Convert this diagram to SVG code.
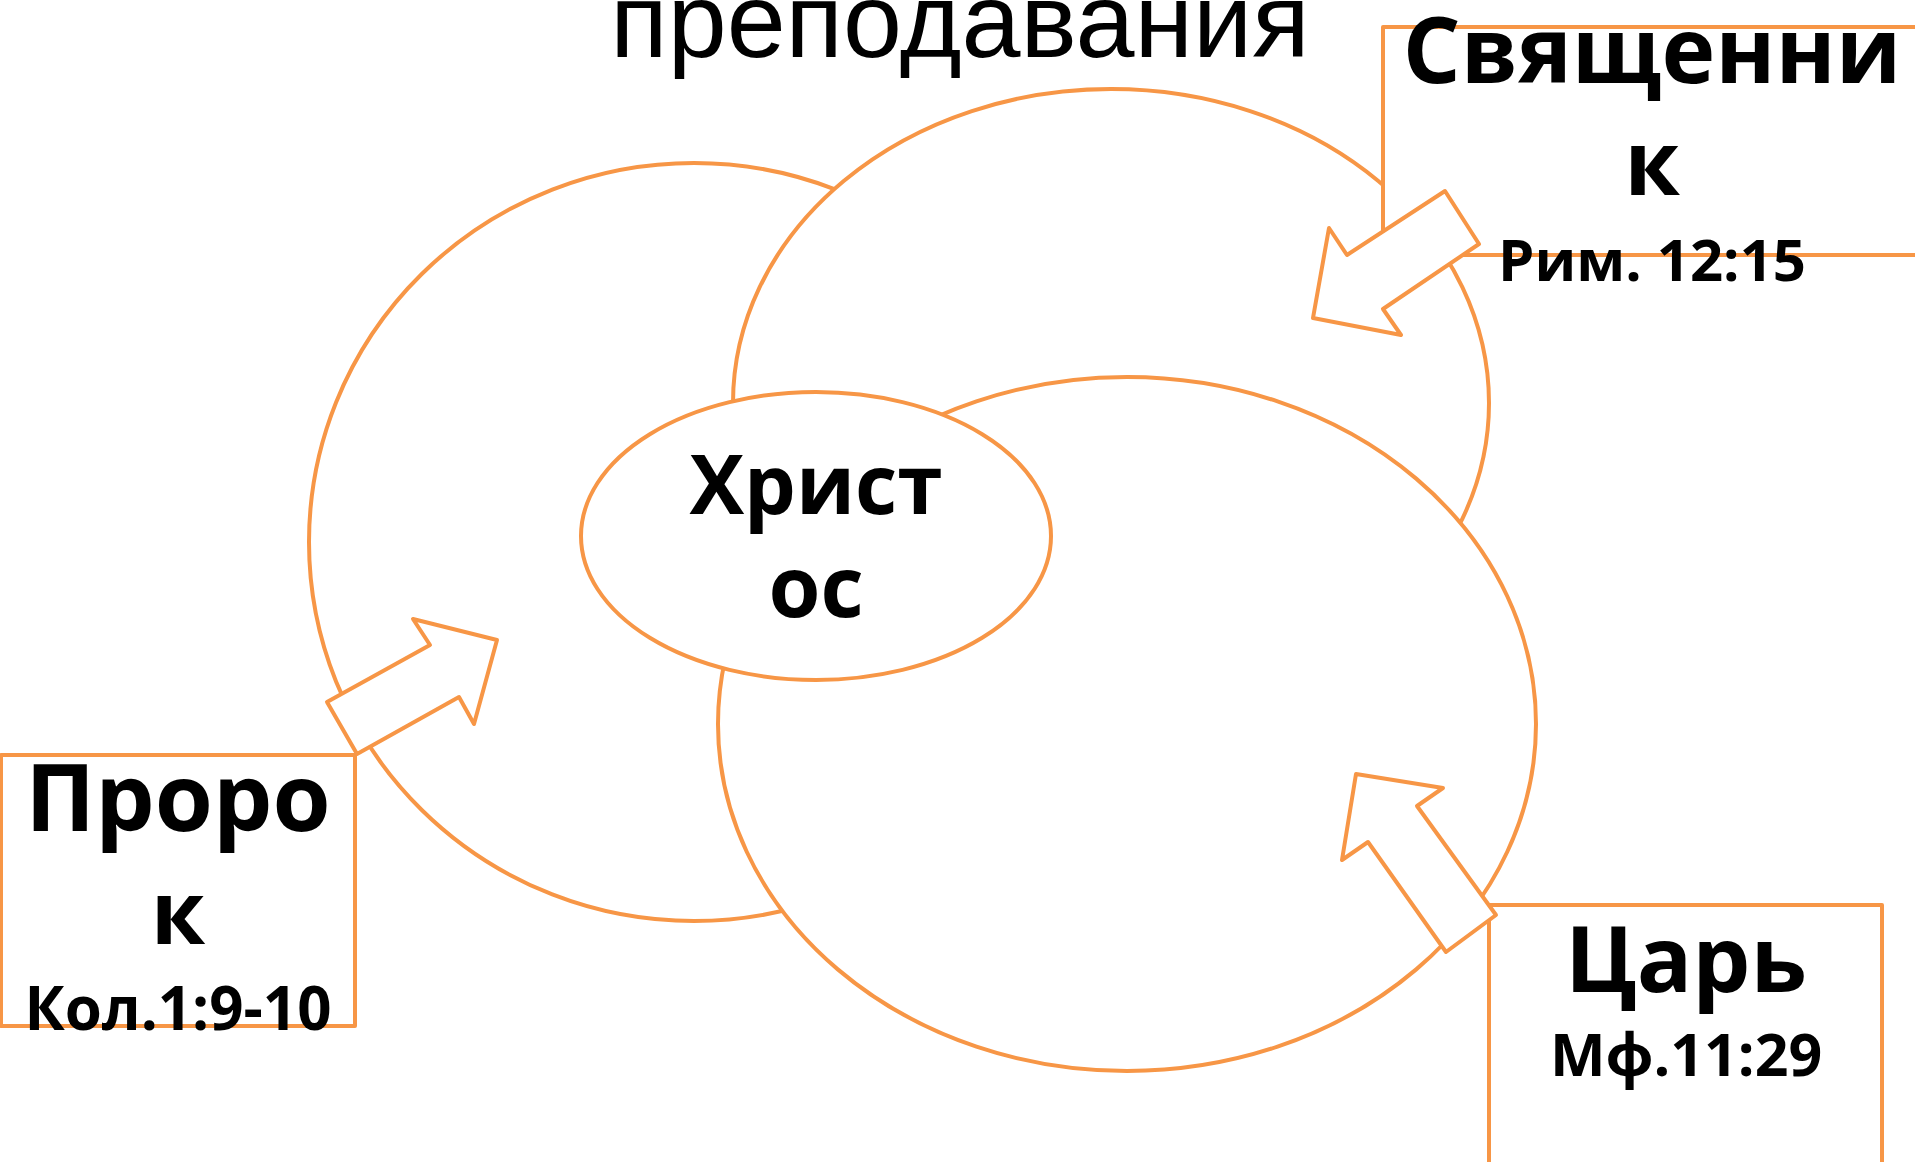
<svg xmlns="http://www.w3.org/2000/svg" width="1915" height="1162" viewBox="0 0 1915 1162">
<style>
.sh{fill:#fff;stroke:#F79646;stroke-width:4;stroke-linejoin:round}
.b{font-family:"Open Sans","Noto Sans","DejaVu Sans",sans-serif;font-weight:bold;fill:#000;text-anchor:middle}
.t{font-family:"Liberation Sans",Arial,sans-serif;fill:#000;text-anchor:middle}
</style>
<rect width="1915" height="1162" fill="#fff"/>
<g id="title"><text class="t" x="960" y="57" font-size="106">преподавания</text></g>
<g id="ellipses">
<ellipse id="e-left" class="sh" cx="694" cy="542" rx="385" ry="379"/>
<ellipse id="e-top" class="sh" cx="1111" cy="403" rx="378" ry="314"/>
<ellipse id="e-bottom" class="sh" cx="1127" cy="724" rx="409" ry="347"/>
</g>
<g id="christ">
<ellipse class="sh" cx="816" cy="536" rx="235" ry="144"/>
<text class="b" x="816" y="514" font-size="82">Христ</text>
<text class="b" x="816" y="617" font-size="84">ос</text>
</g>
<g id="priest">
<rect class="sh" x="1383" y="27" width="560" height="228"/>
<text class="b" x="1652" y="83" font-size="91">Священни</text>
<text class="b" x="1652" y="195" font-size="90">к</text>
<text class="b" x="1652" y="281" font-size="58">Рим. 12:15</text>
</g>
<g id="prophet">
<rect class="sh" x="1" y="755" width="354" height="271"/>
<text class="b" x="178" y="831" font-size="94">Проро</text>
<text class="b" x="178" y="944" font-size="88">к</text>
<text class="b" x="178" y="1030" font-size="60">Кол.1:9-10</text>
</g>
<g id="king">
<rect class="sh" x="1489" y="905" width="393" height="280"/>
<text class="b" x="1686" y="992" font-size="92">Царь</text>
<text class="b" x="1686" y="1076" font-size="59">Мф.11:29</text>
</g>
<g id="connectors">
<polygon class="sh" points="357,754 327,702 430,645 413,619 497,640 474,724 459,697"/>
<polygon class="sh" points="1445,191 1479,244 1383,309 1401,335 1313,318 1329,228 1347,255"/>
<polygon class="sh" points="1496,915 1446,952 1368,842 1342,860 1356,774 1443,788 1417,806"/>
</g>
</svg>
